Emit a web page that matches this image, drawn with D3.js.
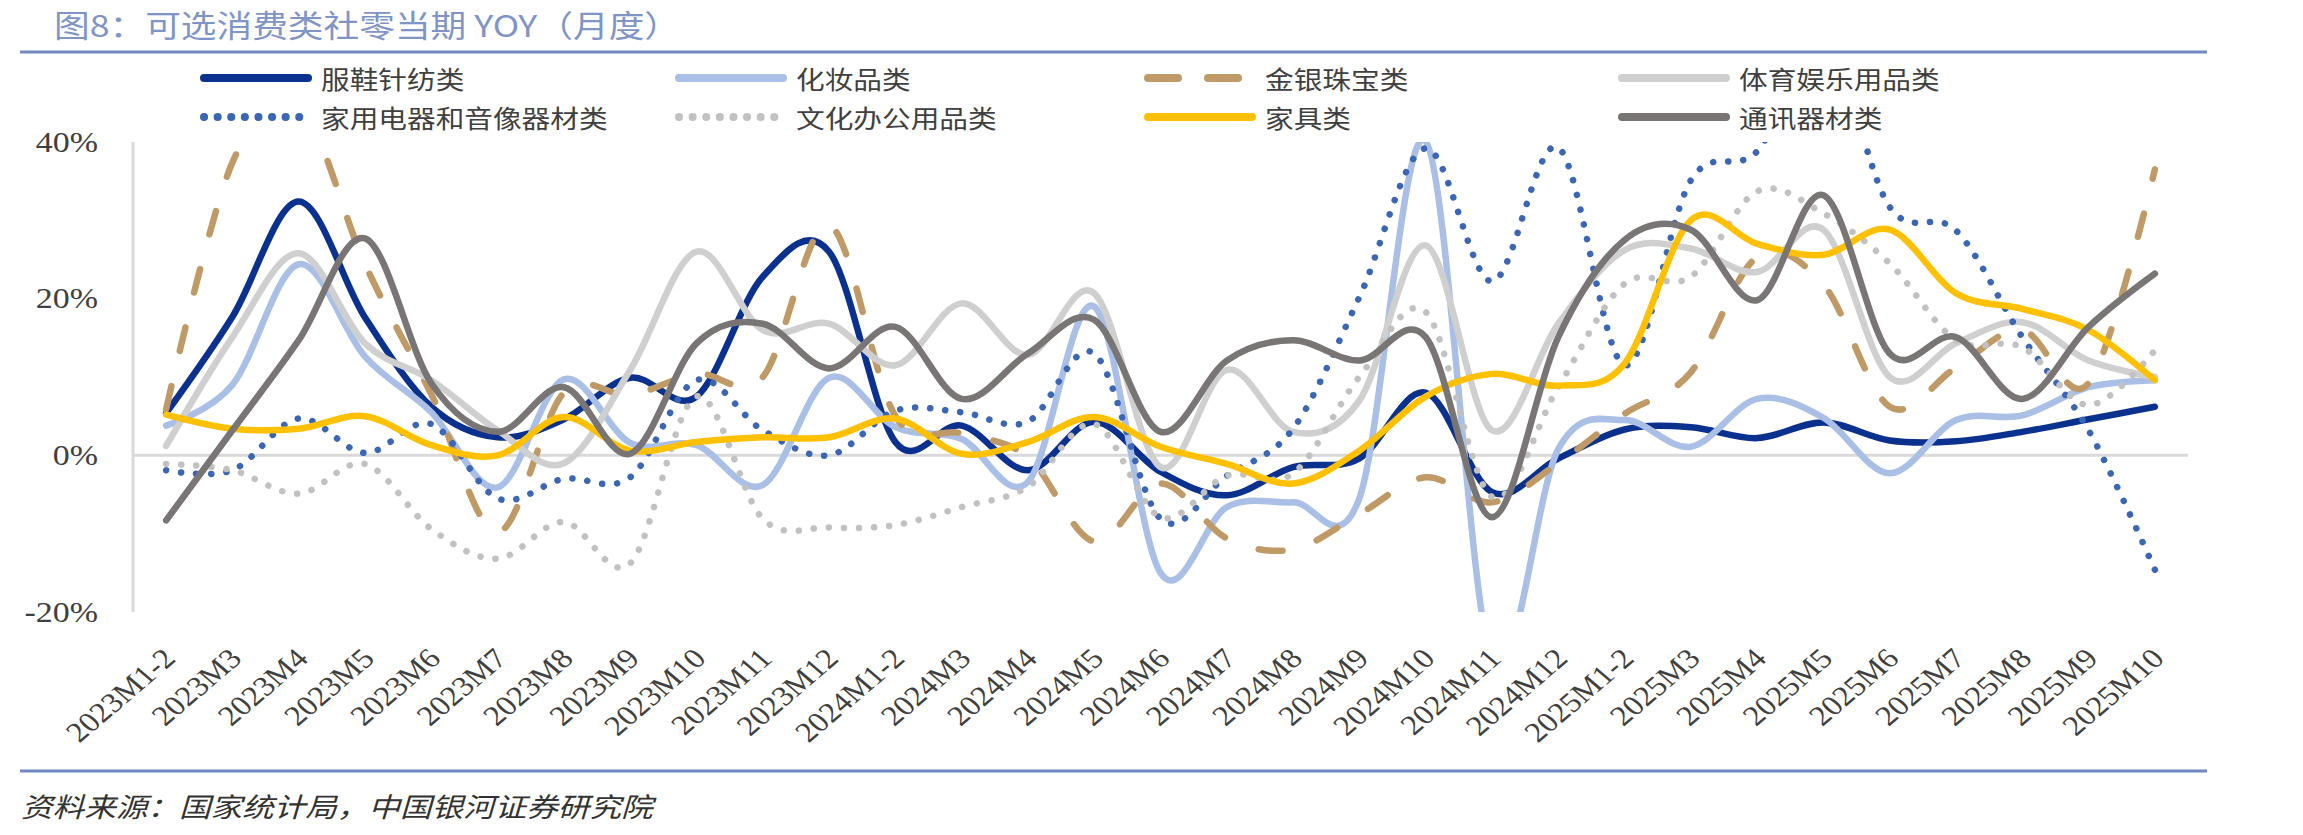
<html>
<head>
<meta charset="utf-8">
<script src="https://d3js.org/d3.v7.min.js"></script>
<style>
    body { margin: 0; background: #ffffff; }
    text { font-family: "Liberation Serif", "Noto Sans CJK SC", serif; fill: #404040; }
    .cn { font-family: "Noto Sans CJK SC", "Noto Sans", sans-serif; }
</style>
</head>
<body>
<svg id="chart" width="2303" height="835"></svg>
<script>
    // categories on the x axis
    const categories = ["2023M1-2", "2023M3", "2023M4", "2023M5", "2023M6", "2023M7", "2023M8", "2023M9",
        "2023M10", "2023M11", "2023M12", "2024M1-2", "2024M3", "2024M4", "2024M5", "2024M6", "2024M7",
        "2024M8", "2024M9", "2024M10", "2024M11", "2024M12", "2025M1-2", "2025M3", "2025M4", "2025M5",
        "2025M6", "2025M7", "2025M8", "2025M9", "2025M10"];
    const yTicks = [-20, 0, 20, 40];

    // YOY, %
    const apparel = [5.4, 17.7, 32.4, 17.6, 6.2, 2.3, 4.6, 9.9, 7.5, 22.8, 26.0, 1.7, 3.8, -1.9, 4.3, -2.1,
        -5.1, -1.5, -0.4, 8.0, -4.7, -0.4, 3.3, 3.6, 2.2, 4.2, 1.9, 1.8, 3.0, 4.6, 6.2];
    const cosmetics = [3.8, 9.0, 24.4, 12.6, 5.5, -4.1, 9.7, 1.6, 1.3, -3.8, 9.9, 3.6, 2.1, -3.4, 19.0, -15.0,
        -6.6, -6.0, -5.5, 40.1, -26.4, 0.8, 4.5, 1.1, 7.2, 4.8, -2.3, 4.5, 5.1, 8.7, 9.6];
    const jewelry = [5.9, 37.4, 44.7, 24.4, 7.8, -9.8, 8.0, 7.7, 10.4, 10.0, 29.4, 5.0, 2.8, -0.2, -11.0, -3.6,
        -10.6, -12.0, -7.5, -2.8, -6.0, -1.0, 5.3, 10.6, 25.3, 21.8, 6.2, 11.2, 16.0, 9.2, 36.5];
    const sports = [1.2, 15.1, 25.8, 14.3, 9.6, 3.2, -1.0, 10.9, 26.0, 16.0, 16.8, 11.5, 19.4, 12.8, 20.7, -1.5,
        10.9, 3.0, 7.0, 26.8, 3.2, 16.8, 26.2, 26.4, 23.4, 28.8, 10.0, 14.3, 17.0, 12.1, 10.0];
    const appliances = [-1.9, -1.9, 4.7, 0.3, 4.0, -5.5, -3.0, -2.8, 9.6, 3.2, 0.0, 5.7, 5.5, 4.3, 13.0, -8.1,
        -2.6, 3.4, 20.2, 39.2, 22.2, 39.3, 11.5, 35.1, 38.8, 53.0, 31.7, 28.7, 15.1, 3.2, -14.6];
    const office = [-1.1, -1.9, -4.9, -1.1, -9.4, -13.2, -8.5, -13.8, 7.5, -8.1, -9.2, -8.9, -6.6, -4.0, 4.0, -7.9,
        -2.6, -2.3, 10.0, 18.3, -5.3, 8.7, 21.9, 22.8, 33.7, 30.9, 24.5, 14.7, 13.8, 6.4, 13.4];
    const furniture = [5.2, 3.4, 3.4, 5.0, 1.3, 0.0, 4.9, 0.6, 1.7, 2.3, 2.3, 4.7, 0.2, 1.7, 4.9, 1.1,
        -1.1, -3.6, 0.6, 7.5, 10.4, 8.9, 11.7, 30.0, 27.0, 25.6, 28.8, 20.7, 18.7, 16.0, 9.6];
    const telecom = [-8.3, 3.2, 14.7, 27.7, 9.2, 3.0, 8.7, 0.2, 14.3, 16.8, 11.1, 16.4, 7.2, 13.0, 17.3, 3.0,
        12.1, 14.7, 12.1, 15.1, -7.9, 15.1, 27.5, 28.8, 19.8, 33.2, 13.0, 15.1, 7.2, 16.4, 23.2];

    const seriesNames = ["服鞋针纺类", "化妆品类", "金银珠宝类", "体育娱乐用品类",
        "家用电器和音像器材类", "文化办公用品类", "家具类", "通讯器材类"];
    const seriesValues = [apparel, cosmetics, jewelry, sports, appliances, office, furniture, telecom];
    const seriesColors = ["#0b318f", "#a9bfe6", "#bf9a66", "#d0cfcf", "#3b66b3", "#c1c1c1", "#ffc000", "#787574"];
    const seriesDash = [null, null, "24,36", null, "0.1,15", "0.1,15", null, null];

    var svg = d3.select("#chart");
    var sx = 1.17; // the source picture is stretched sideways

    function place(sel, x, y, rot) {
        sel.attr("transform", "translate(" + x + "," + y + ") scale(" + sx + ",1)" + (rot ? " rotate(" + rot + ")" : ""));
        return sel;
    }

    var plotLeft = 133, plotRight = 2188, plotTop = 142, plotBottom = 612;

    var x = d3.scaleBand().domain(categories).range([plotLeft, plotRight]);
    var y = d3.scaleLinear().domain([-20, 40]).range([plotBottom, plotTop]);
    var cx = function (c) { return x(c) + x.bandwidth() / 2; };

    // title and rules
    place(svg.append("text").attr("class", "cn").style("font-size", "30.5px").style("fill", "#7f94c7")
        .text("图8：可选消费类社零当期 YOY（月度）"), 54, 37);
    svg.append("line").attr("x1", 20).attr("x2", 2207).attr("y1", 52).attr("y2", 52)
        .attr("stroke", "#7189c0").attr("stroke-width", 3);
    svg.append("line").attr("x1", 20).attr("x2", 2207).attr("y1", 771).attr("y2", 771)
        .attr("stroke", "#7189c0").attr("stroke-width", 3);
    place(svg.append("text").attr("class", "cn").style("font-size", "27px").style("font-style", "italic")
        .style("fill", "#333").attr("dominant-baseline", "central")
        .text("资料来源：国家统计局，中国银河证券研究院"), 21, 805);

    // legend
    var legendX = [200, 675, 1144, 1618], legendY = [78, 117];
    seriesNames.forEach(function (name, i) {
        var lx = legendX[i % 4], ly = legendY[Math.floor(i / 4)];
        svg.append("line").attr("x1", lx + 4).attr("x2", lx + 108).attr("y1", ly).attr("y2", ly)
            .attr("stroke", seriesColors[i]).attr("stroke-width", 8).attr("stroke-linecap", "round")
            .attr("stroke-dasharray", seriesDash[i] == "24,36" ? "30,30" : seriesDash[i] == null ? null : "0.1,13.5");
        place(svg.append("text").attr("class", "cn").style("font-size", "24.5px")
            .attr("dominant-baseline", "central").text(name), lx + 121, ly);
    });

    // axes
    svg.append("line").attr("x1", plotLeft).attr("x2", plotLeft).attr("y1", plotTop).attr("y2", plotBottom)
        .attr("stroke", "#d9d9d9").attr("stroke-width", 3);
    svg.append("line").attr("x1", plotLeft).attr("x2", plotRight).attr("y1", y(0)).attr("y2", y(0))
        .attr("stroke", "#d9d9d9").attr("stroke-width", 3);

    yTicks.forEach(function (t) {
        place(svg.append("text").style("font-size", "29px").attr("text-anchor", "end")
            .attr("dominant-baseline", "central").text(t + "%"), 98, y(t));
    });
    categories.forEach(function (c) {
        place(svg.append("text").style("font-size", "28px").attr("text-anchor", "end")
            .text(c), cx(c) + 11, 660, -45);
    });

    // lines
    svg.append("clipPath").attr("id", "plot").append("rect")
        .attr("x", plotLeft).attr("y", plotTop).attr("width", plotRight - plotLeft + 4).attr("height", plotBottom - plotTop);

    var line = d3.line()
        .x(function (d, i) { return cx(categories[i]); })
        .y(function (d) { return y(d); })
        .curve(d3.curveCatmullRom.alpha(0));

    var g = svg.append("g").attr("clip-path", "url(#plot)");
    seriesValues.forEach(function (vals, i) {
        g.append("path").attr("d", line(vals))
            .attr("fill", "none")
            .attr("stroke", seriesColors[i])
            .attr("stroke-width", 6.5)
            .attr("stroke-linecap", "round")
            .attr("stroke-linejoin", "round")
            .attr("stroke-dasharray", seriesDash[i]);
    });
</script>
</body>
</html>
